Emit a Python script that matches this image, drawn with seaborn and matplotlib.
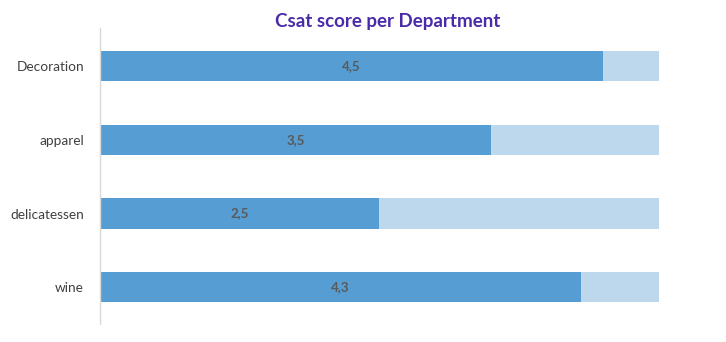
import matplotlib
matplotlib.use("Agg")
import matplotlib.pyplot as plt
import seaborn as sns
import pandas as pd

departments = ["Decoration", "apparel", "delicatessen", "wine"]
scores = [4.5, 3.5, 2.5, 4.3]
max_score = [5, 5, 5, 5]
value_labels = ["4,5", "3,5", "2,5", "4,3"]

sns.set_theme(style="white")
plt.rcParams['font.family'] = ['Lato', 'DejaVu Sans']

df = pd.DataFrame({"dept": departments, "score": scores, "max": max_score})

fig = plt.figure(figsize=(7.26, 3.42), dpi=100)
ax = fig.add_axes([100/726, 1-324/342, (659-100)/726, (324-28)/342])

sns.barplot(data=df, y="dept", x="max", color="#BDD7EC", width=0.41, ax=ax,
            saturation=1, orient="h", linewidth=0, edgecolor="none")
sns.barplot(data=df, y="dept", x="score", color="#559DD2", width=0.41, ax=ax,
            saturation=1, orient="h", linewidth=0, edgecolor="none")

ax.set_xlim(0, 5)
ax.set_ylim(3.5, -0.52)
for i, (s, lab) in enumerate(zip(scores, value_labels)):
    ax.text(s/2, i, lab, ha="center", va="center", fontsize=9.5,
            fontweight="bold", color="#595959")

ax.set_xlabel("")
ax.set_ylabel("")
ax.set_xticks([])
ax.tick_params(axis="y", length=0, pad=11.5, labelsize=9.8, labelcolor="#404040")
for side in ["top", "right", "bottom"]:
    ax.spines[side].set_visible(False)
ax.spines["left"].set_color("#D9D9D9")
ax.spines["left"].set_linewidth(1)

fig.text(388/726, 1-21/342, "Csat score per Department", ha="center", va="center",
         fontsize=13.5, fontweight="bold", color="#4A2BA8")

fig.savefig("out.png", dpi=100)
